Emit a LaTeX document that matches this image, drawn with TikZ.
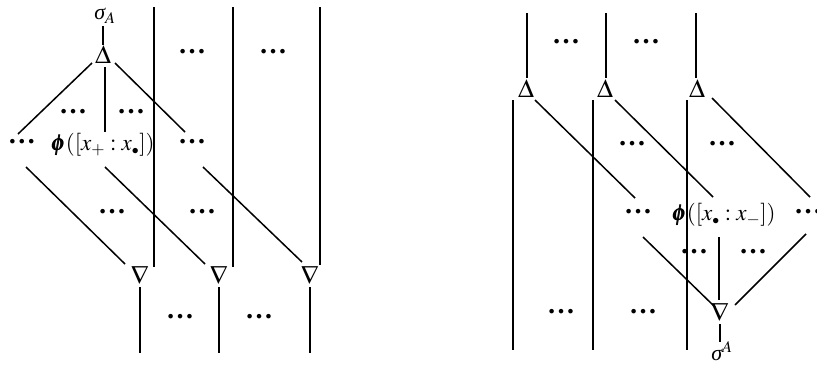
\documentclass[tikz,border=0pt]{standalone}
\usepackage{amsmath}
\usepackage{mathptmx}
\usepackage[no-math]{fontspec}
\newfontfamily\dotfont{Liberation Serif}
\newcommand{\smalldot}{{\scriptscriptstyle\bullet}}
\newcommand{\itsigma}{\text{\dotfont\itshape σ}}
\begin{document}
\begin{tikzpicture}[x=1pt,y=-1pt,
  wire/.style={line width=1.5pt},
  lbl/.style={inner sep=0pt,font=\fontsize{23}{26}\selectfont},
  dts/.style={inner sep=0pt,font=\dotfont\bfseries\fontsize{28}{30}\selectfont},
  tri/.style={inner sep=0pt,font=\fontsize{26}{28}\selectfont}]
\useasboundingbox (0,0) rectangle (817,365);
% ---------- left diagram ----------
\node[lbl,font=\fontsize{22}{24}\selectfont] (sA) at (105,16) {$\itsigma_A$};
\node[tri] (DA) at (103,55) {$\Delta$};
\coordinate (sAt) at (103,26); \coordinate (sAb) at (103,45);
\draw[wire] (sAt) -- (sAb);
\coordinate (a1) at (92,63);  \coordinate (a1e) at (18,134);
\coordinate (a2) at (105,67); \coordinate (a2e) at (105,132);
\coordinate (a3) at (115,63); \coordinate (a3e) at (185,132);
\draw[wire] (a1) -- (a1e);
\draw[wire] (a2) -- (a2e);
\draw[wire] (a3) -- (a3e);
\coordinate (v1t) at (154,7); \coordinate (v1b) at (154,267);
\coordinate (v2t) at (233,7); \coordinate (v2b) at (233,267);
\coordinate (v3t) at (320,7); \coordinate (v3b) at (320,265);
\draw[wire] (v1t) -- (v1b);
\draw[wire] (v2t) -- (v2b);
\draw[wire] (v3t) -- (v3b);
\node[dts] (l1) at (192,52) {…};
\node[dts] (l2) at (273,52) {…};
\node[dts] (l3) at (73,112) {…};
\node[dts] (l4) at (131,112) {…};
\node[dts] (l5) at (22,142) {…};
\node[lbl] (phiL) at (103,145) {$\pmb{\phi}([x_+ : x_\smalldot])$};
\node[dts] (l6) at (192,142) {…};
\node[dts] (l7) at (112,212) {…};
\node[dts] (l8) at (202,212) {…};
\node[dts] (l9) at (180,317) {…};
\node[dts] (l10) at (259,317) {…};
\coordinate (b1) at (26,167);  \coordinate (b1e) at (125,264);
\coordinate (b2) at (105,167); \coordinate (b2e) at (205,264);
\coordinate (b3) at (203,167); \coordinate (b3e) at (302,262);
\draw[wire] (b1) -- (b1e);
\draw[wire] (b2) -- (b2e);
\draw[wire] (b3) -- (b3e);
\node[tri] (N1) at (140,275) {$\nabla$};
\node[tri] (N2) at (219,275) {$\nabla$};
\node[tri] (N3) at (310,275) {$\nabla$};
\coordinate (n1t) at (140,287); \coordinate (n1b) at (140,353);
\coordinate (n2t) at (219,287); \coordinate (n2b) at (219,353);
\coordinate (n3t) at (310,287); \coordinate (n3b) at (310,353);
\draw[wire] (n1t) -- (n1b);
\draw[wire] (n2t) -- (n2b);
\draw[wire] (n3t) -- (n3b);
% ---------- right diagram ----------
\coordinate (t1t) at (527,13); \coordinate (t1b) at (527,78);
\coordinate (t2t) at (606,13); \coordinate (t2b) at (606,78);
\coordinate (t3t) at (696,13); \coordinate (t3b) at (696,78);
\draw[wire] (t1t) -- (t1b);
\draw[wire] (t2t) -- (t2b);
\draw[wire] (t3t) -- (t3b);
\node[tri] (D1) at (526,89) {$\Delta$};
\node[tri] (D2) at (605,89) {$\Delta$};
\node[tri] (D3) at (697,89) {$\Delta$};
\coordinate (w1t) at (513,100); \coordinate (w1b) at (513,350);
\coordinate (w2t) at (593,100); \coordinate (w2b) at (593,350);
\coordinate (w3t) at (687,100); \coordinate (w3b) at (687,350);
\draw[wire] (w1t) -- (w1b);
\draw[wire] (w2t) -- (w2b);
\draw[wire] (w3t) -- (w3b);
\coordinate (d1) at (535,100); \coordinate (d1e) at (635,198);
\coordinate (d2) at (615,100); \coordinate (d2e) at (713,197);
\coordinate (d3) at (712,98);  \coordinate (d3e) at (810,197);
\draw[wire] (d1) -- (d1e);
\draw[wire] (d2) -- (d2e);
\draw[wire] (d3) -- (d3e);
\node[dts] (r1) at (566,42) {…};
\node[dts] (r2) at (646,42) {…};
\node[dts] (r3) at (632,144) {…};
\node[dts] (r4) at (722,144) {…};
\node[dts] (r5) at (638,212) {…};
\node[lbl] (phiR) at (724,215) {$\pmb{\phi}([x_\smalldot : x_-])$};
\node[dts] (r6) at (808,212) {…};
\node[dts] (r7) at (694,252) {…};
\node[dts] (r8) at (753,252) {…};
\node[dts] (r9) at (561,312) {…};
\node[dts] (r10) at (643,312) {…};
\coordinate (e1) at (643,237); \coordinate (e1e) at (715,307);
\coordinate (e2) at (719,237); \coordinate (e2e) at (719,300);
\coordinate (e3) at (806,234); \coordinate (e3e) at (735,305);
\draw[wire] (e1) -- (e1e);
\draw[wire] (e2) -- (e2e);
\draw[wire] (e3) -- (e3e);
\node[tri] (NR) at (720,312) {$\nabla$};
\coordinate (nrt) at (720,324); \coordinate (nrb) at (720,342);
\draw[wire] (nrt) -- (nrb);
\node[lbl,font=\fontsize{22}{24}\selectfont] (sR) at (722,351) {$\itsigma^A$};
\end{tikzpicture}
\end{document}
